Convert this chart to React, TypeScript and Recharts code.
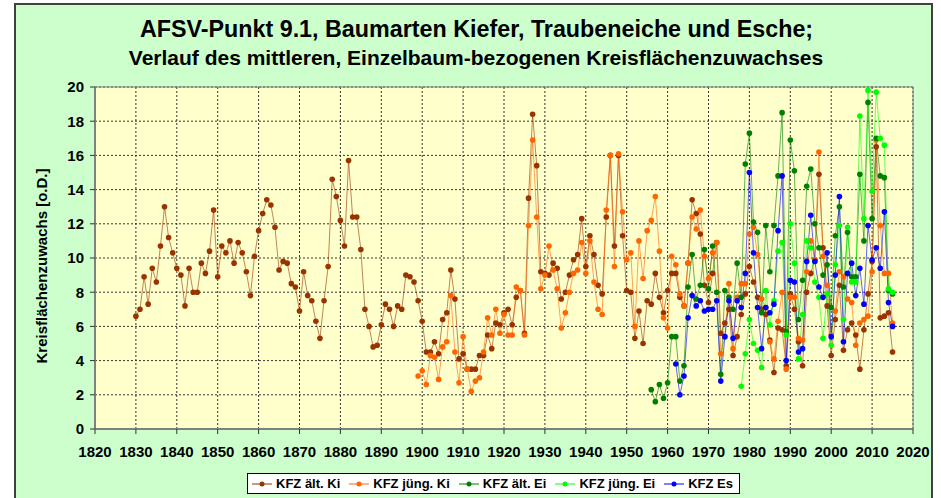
import React from "react";
import {
  LineChart,
  Line,
  XAxis,
  YAxis,
  CartesianGrid,
  Legend,
  ReferenceArea,
  Label,
} from "recharts";

// Kreisflächenzuwachs je Jahr
const kiAltStart = 1830;
const kiAlt = [
  6.6, 7.0, 8.9, 7.3, 9.4, 8.6, 10.7, 13.0, 11.2, 10.3,
  9.4, 9.0, 7.2, 9.4, 8.0, 8.0, 9.7, 9.1, 10.4, 12.8,
  8.9, 10.7, 10.3, 11.0, 9.7, 10.9, 10.3, 9.2, 7.8, 10.1,
  11.6, 12.6, 13.4, 13.1, 11.8, 9.3, 9.8, 9.7, 8.5, 8.3,
  6.9, 9.2, 7.8, 7.5, 6.3, 5.3, 7.5, 9.5, 14.6, 13.6,
  12.2, 10.7, 15.7, 12.4, 12.4, 10.5, 7.0, 6.0, 4.8, 4.9,
  6.1, 7.3, 7.0, 6.0, 7.2, 7.0, 9.0, 8.9, 8.6, 7.5,
  6.3, 4.5, 4.5, 5.1, 4.4, 6.4, 6.8, 9.3, 7.6, 4.1,
  4.4, 3.5, 3.5, 3.5, 4.3, 4.3, 5.5, 4.7, 6.2, 6.1,
  6.8, 7.0, 6.1, 7.7, 8.1, 5.6, 13.5, 18.4, 15.4, 9.2,
  9.1, 9.0, 9.7, 9.4, 7.6, 8.0, 9.0, 9.9, 10.2, 12.3,
  9.5, 11.3, 10.2, 8.4, 7.9, 12.4, 16.0, 10.7, 16.0, 11.3,
  8.1, 8.0, 5.3, 6.9, 5.0, 7.5, 7.3, 9.1, 7.7, 6.8,
  8.1, 9.1, 9.1, 7.7, 7.2, 9.7, 13.4, 12.6, 11.4, 8.4,
  7.4, 9.1, 10.9, 5.6, 6.2, 7.0, 4.3, 5.4, 6.7, 7.9,
  9.5, 8.6, 7.7, 7.0, 6.7, 5.2, 3.3, 5.9, 5.8, 3.7,
  7.9, 7.0, 5.1, 3.7, 8.0, 9.1, 9.9, 14.9, 10.6, 7.2,
  4.3, 6.4, 8.4, 4.6, 5.8, 6.2, 5.5, 3.5, 5.8, 7.9,
  9.8, 16.5, 6.5, 6.6, 6.8, 4.5,
];

const kiJungStart = 1899;
const kiJung = [
  3.1,
  3.4, 2.6, 4.3, 4.2, 2.9, 4.8, 5.1, 7.8, 4.5, 2.7,
  5.4, 3.5, 2.2, 2.8, 3.0, 4.5, 6.5, 5.5, 7.0, 5.6,
  6.7, 5.5, 5.5, 8.3, 8.1, 5.5, 11.9, 16.9, 12.4, 8.2,
  9.0, 10.7, 9.3, 8.2, 5.9, 6.8, 8.0, 9.1, 9.3, 10.9,
  9.1, 11.0, 8.6, 7.0, 6.7, 12.8, 16.0, 9.5, 16.1, 12.7,
  9.9, 10.3, 6.0, 11.0, 8.8, 11.6, 12.2, 13.6, 10.4, 6.5,
  5.9, 10.1, 9.6, 7.9, 7.2, 9.7, 12.4, 11.7, 12.8, 10.1,
  8.8, 10.3, 10.9, 4.4, 5.4, 8.5, 4.7, 7.7, 8.5, 8.5,
  11.4, 11.8, 10.2, 7.6, 7.1, 5.1, 4.1, 6.3, 8.0, 3.5,
  7.7, 7.7, 5.3, 5.2, 9.2, 11.0, 9.9, 16.2, 10.1, 8.4,
  5.5, 6.9, 9.2, 8.9, 7.6, 7.4, 4.9, 6.2, 6.4, 6.6,
  9.2, 16.9, 11.9, 9.1, 9.1, 6.2,
];

const eiAltStart = 1956;
const eiAlt = [
  2.3, 1.6, 2.6, 1.8,
  2.7, 5.4, 5.4, 2.8, 3.7, 8.3, 10.2, 7.6, 8.4, 10.5,
  8.2, 10.7, 8.0, 3.2, 8.1, 7.7, 7.0, 9.7, 7.7, 15.5,
  17.3, 12.1, 11.5, 6.8, 11.9, 9.2, 11.9, 14.8, 18.5, 5.7,
  16.9, 15.1, 6.4, 8.7, 14.2, 15.2, 12.0, 10.6, 9.0, 9.6,
  7.1, 11.3, 13.0, 8.3, 11.5, 8.9, 8.9, 14.9, 11.0, 19.1,
  12.3, 17.0, 14.8, 14.7, 8.1, 7.9,
];

const eiJungStart = 1978;
const eiJung = [
  2.5, 4.4,
  6.4, 5.0, 4.6, 3.6, 8.1, 6.1, 7.5, 10.4, 10.9, 5.5,
  12.0, 9.7, 4.1, 6.7, 11.0, 10.6, 8.6, 7.7, 5.3, 7.9,
  4.9, 9.6, 11.9, 6.4, 11.8, 8.6, 8.6, 18.3, 12.3, 19.8,
  13.9, 19.7, 17.0, 16.6, 8.2, 8.0,
];

const esStart = 1962;
const es = [
  3.8, 2.0, 3.1, 6.5, 7.8, 7.2, 7.5, 6.9,
  7.0, 7.0, 7.5, 2.8, 5.4, 7.5, 5.3, 7.5, 7.1, 9.1,
  15.0, 10.3, 7.1, 4.7, 7.1, 6.8, 7.3, 11.6, 14.8, 4.0,
  8.7, 8.6, 4.5, 4.7, 9.8, 12.5, 9.8, 8.3, 7.7, 10.3,
  5.4, 9.0, 13.6, 5.1, 9.1, 9.7, 7.8, 9.4, 7.3, 11.9,
  9.9, 10.6, 9.4, 12.7, 7.4, 6.0,
];

const xTicks = [1820, 1830, 1840, 1850, 1860, 1870, 1880, 1890, 1900, 1910, 1920,
  1930, 1940, 1950, 1960, 1970, 1980, 1990, 2000, 2010, 2020];
const yTicks = [0, 2, 4, 6, 8, 10, 12, 14, 16, 18, 20];

const series = [
  { key: "kiAlt", name: "KFZ ält. Ki", color: "#993300", start: kiAltStart, values: kiAlt },
  { key: "kiJung", name: "KFZ jüng. Ki", color: "#FF6600", start: kiJungStart, values: kiJung },
  { key: "eiAlt", name: "KFZ ält. Ei", color: "#008000", start: eiAltStart, values: eiAlt },
  { key: "eiJung", name: "KFZ jüng. Ei", color: "#00FF00", start: eiJungStart, values: eiJung },
  { key: "es", name: "KFZ Es", color: "#0000FF", start: esStart, values: es },
];

const data = [];
for (let y = 1830; y <= 2015; y++) {
  const row = { year: y };
  series.forEach((s) => {
    const i = y - s.start;
    if (i >= 0 && i < s.values.length) row[s.key] = s.values[i];
  });
  data.push(row);
}

const font = "'Liberation Sans', Arial, sans-serif";

const LegendBox = ({ payload }) => {
  // keep the order of the series array
  const items = [...(payload || [])].sort(
    (a, b) =>
      series.findIndex((s) => s.name === a.value) -
      series.findIndex((s) => s.name === b.value)
  );
  return (
    <div
      style={{
        display: "inline-flex",
        alignItems: "center",
        border: "1px solid #000",
        background: "#fff",
        padding: "2px 6px 2px 4px",
        fontFamily: font,
        fontWeight: "bold",
        fontSize: 13,
        gap: 9,
      }}
    >
      {items.map((p) => (
        <span key={p.value} style={{ display: "inline-flex", alignItems: "center" }}>
          <svg width={20} height={8} style={{ marginRight: 4 }}>
            <line x1={0} y1={4} x2={20} y2={4} stroke={p.color} strokeWidth={1} />
            <circle cx={10} cy={4} r={2.5} fill={p.color} />
          </svg>
          {p.value}
        </span>
      ))}
    </div>
  );
};

const YLabel = ({ viewBox }) => {
  const cx = viewBox.x + 2;
  const cy = viewBox.y + viewBox.height / 2 + 8;
  return (
    <text
      x={cx}
      y={cy}
      transform={`rotate(-90, ${cx}, ${cy})`}
      textAnchor="middle"
      fontFamily={font}
      fontWeight="bold"
      fontSize={15}
      fill="#000"
    >
      Kreisflächenzuwachs [o.D.]
    </text>
  );
};

export default function App() {
  const tickStyle = { fill: "#000", fontFamily: font, fontWeight: "bold", fontSize: 15 };
  return (
    <div style={{ position: "absolute", left: 0, top: 0, width: 941, height: 498, background: "#fff", overflow: "hidden" }}>
      <div
        style={{
          position: "absolute",
          left: 14,
          top: 3,
          width: 915,
          height: 510,
          background: "#CCFFCC",
          border: "2px solid #404040",
        }}
      />
      <div
        style={{
          position: "absolute",
          left: 0,
          width: 953,
          top: 16,
          textAlign: "center",
          fontFamily: font,
          fontWeight: "bold",
          fontSize: 23.3,
          lineHeight: "27px",
          color: "#000",
        }}
      >
        AFSV-Punkt 9.1, Baumarten Kiefer, Traubeneiche und Esche;
      </div>
      <div
        style={{
          position: "absolute",
          left: 0,
          width: 952,
          top: 45,
          textAlign: "center",
          fontFamily: font,
          fontWeight: "bold",
          fontSize: 21,
          lineHeight: "25px",
          color: "#000",
        }}
      >
        Verlauf des mittleren, Einzelbaum-bezogenen Kreisflächenzuwachses
      </div>
      <div style={{ position: "absolute", left: 0, top: 0 }}>
        <LineChart
          width={941}
          height={498}
          data={data}
          margin={{ top: 87, right: 28, bottom: 39, left: 45 }}
        >
          <CartesianGrid fill="#FFFFCC" stroke="#333" strokeDasharray="2 2" />
          <ReferenceArea x1={1820} x2={2020} y1={0} y2={20} fill="none" stroke="#808080" strokeWidth={1} />
          <XAxis
            dataKey="year"
            type="number"
            domain={[1820, 2020]}
            ticks={xTicks}
            interval={0}
            height={30}
            tick={tickStyle}
            tickSize={5}
            tickMargin={12}
            axisLine={{ stroke: "#808080", strokeWidth: 2 }}
            tickLine={{ stroke: "#333" }}
          />
          <YAxis
            type="number"
            domain={[0, 20]}
            ticks={yTicks}
            interval={0}
            width={50}
            tick={tickStyle}
            tickSize={5}
            tickMargin={6}
            axisLine={{ stroke: "#808080", strokeWidth: 2 }}
            tickLine={{ stroke: "#333" }}
          >
            <Label content={YLabel} />
          </YAxis>
          <Legend
            layout="horizontal"
            verticalAlign="middle"
            align="center"
            content={<LegendBox />}
            wrapperStyle={{ left: 247, top: 473, width: "auto" }}
          />
          {series.map((s) => (
            <Line
              key={s.key}
              type="linear"
              dataKey={s.key}
              name={s.name}
              stroke={s.color}
              strokeWidth={1}
              strokeOpacity={0.6}
              dot={{ r: 2.8, fill: s.color, stroke: s.color, strokeWidth: 0, strokeOpacity: 1, fillOpacity: 1 }}
              activeDot={false}
              isAnimationActive={false}
            />
          ))}
        </LineChart>
      </div>
    </div>
  );
}
